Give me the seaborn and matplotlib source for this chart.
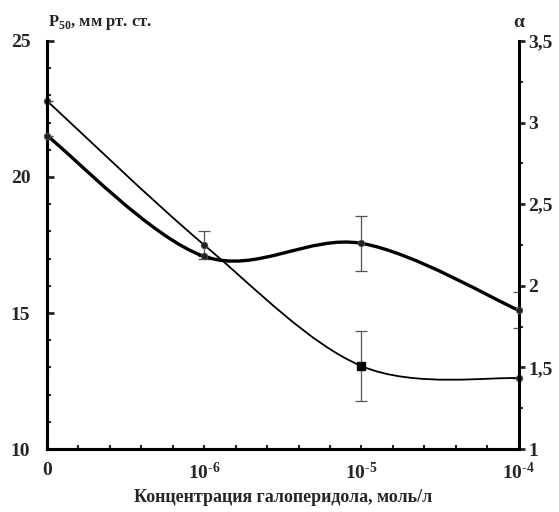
import numpy as np
import pandas as pd
import seaborn as sns
import matplotlib.pyplot as plt
from matplotlib.path import Path
from matplotlib.patches import PathPatch
from matplotlib.ticker import MultipleLocator

# data
conc_labels = ['0', r'$\mathbf{10^{\text{-}6}}$', r'$\mathbf{10^{\text{-}5}}$', r'$\mathbf{10^{\text{-}4}}$']
conc_pos = [0, 1, 2, 3]
p50 = [22.8, 17.5, 13.05, 12.6]
p50_err = [0.0, 0.5, 1.3, 0.0]
alpha = [2.92, 2.18, 2.26, 1.85]
alpha_err = [0.0, 0.0, 0.17, 0.11]

sns.set_style('ticks')
plt.rcParams['font.family'] = ['Liberation Serif', 'DejaVu Serif']
plt.rcParams['font.weight'] = 'bold'
plt.rcParams['mathtext.fontset'] = 'custom'
plt.rcParams['mathtext.rm'] = 'Liberation Serif:bold'
plt.rcParams['mathtext.bf'] = 'Liberation Serif:bold'


def smooth_path(xs, ys):
    # excel-like smoothed line (catmull-rom as bezier segments)
    pts = np.column_stack([xs, ys]).astype(float)
    n = len(pts)
    verts = [pts[0]]
    codes = [Path.MOVETO]
    for i in range(n - 1):
        p0 = pts[i - 1] if i > 0 else pts[i]
        p1 = pts[i]
        p2 = pts[i + 1]
        p3 = pts[i + 2] if i + 2 < n else pts[i + 1]
        verts += [p1 + (p2 - p0) / 6, p2 - (p3 - p1) / 6, p2]
        codes += [Path.CURVE4] * 3
    return Path(verts, codes)


df = pd.DataFrame({'x': conc_pos, 'p50': p50, 'alpha': alpha})

fig = plt.figure(figsize=(5.59, 5.12), dpi=100)
ax = fig.add_axes([0.084, 0.123, 0.844, 0.797])
ax2 = ax.twinx()

# P50 curve (thin)
ax.add_patch(PathPatch(smooth_path(df.x, df.p50), fill=False, lw=1.3, ec='black', zorder=3))
ax.errorbar(df.x, df.p50, yerr=p50_err, fmt='none', ecolor='#555555', elinewidth=0.9,
            capsize=4, capthick=0.9, zorder=2)
sns.scatterplot(data=df, x='x', y='p50', ax=ax, color='#222222', s=22, clip_on=False,
                marker='o', edgecolor='#555555', linewidth=0.6, zorder=4, legend=False)
ax.plot(2, p50[2], marker='s', ms=5.5, color='black', zorder=5)

# alpha curve (thick)
ax2.add_patch(PathPatch(smooth_path(df.x, df.alpha), fill=False, lw=2.4, ec='black', zorder=3))
ax2.errorbar(df.x, df.alpha, yerr=alpha_err, fmt='none', ecolor='#555555', elinewidth=0.9,
             capsize=4, capthick=0.9, zorder=2)
sns.scatterplot(data=df, x='x', y='alpha', ax=ax2, color='#222222', s=22, clip_on=False,
                marker='o', edgecolor='#555555', linewidth=0.6, zorder=4, legend=False)

ax.set_xlim(0, 3)
ax.set_ylim(10, 25)
ax2.set_ylim(1, 3.5)

ax.set_xticks(conc_pos)
ax.set_xticklabels(conc_labels)
ax.xaxis.set_minor_locator(MultipleLocator(0.2))
ax.yaxis.set_major_locator(MultipleLocator(5))
ax.yaxis.set_minor_locator(MultipleLocator(1))
ax2.yaxis.set_major_locator(MultipleLocator(0.5))
ax2.yaxis.set_minor_locator(MultipleLocator(0.25))
ax2.set_yticks([1, 1.5, 2, 2.5, 3, 3.5])
ax2.set_yticklabels(['1', '1,5', '2', '2,5', '3', '3,5'])

for a in (ax, ax2):
    a.spines['top'].set_visible(False)
    for s in ('left', 'right', 'bottom'):
        a.spines[s].set_linewidth(2.2)
        a.spines[s].set_color('black')
    a.set_xlabel('')
    a.set_ylabel('')
ax.spines['right'].set_visible(False)

ax.tick_params(axis='x', which='both', direction='in', length=3, width=1.5, pad=9,
               labelsize=14)
ax.tick_params(axis='y', which='major', direction='in', length=5, width=2, pad=12,
               labelsize=14)
ax.tick_params(axis='y', which='minor', direction='in', length=3, width=1.5)
ax2.tick_params(axis='y', which='major', direction='out', length=4, width=2, pad=3,
                labelsize=14)
ax2.tick_params(axis='y', which='minor', direction='out', length=3, width=1.5)
for lab in ax.get_xticklabels() + ax.get_yticklabels() + ax2.get_yticklabels():
    lab.set_fontweight('bold')

fig.text(0.086, 0.957, r'Р$_{\mathbf{50}}$, мм рт. ст.', fontsize=12, fontweight='bold',
         ha='left', va='center')
fig.text(0.928, 0.957, 'α', fontsize=14, fontweight='bold', ha='center', va='center')
fig.text(0.506, 0.028, 'Концентрация галоперидола, моль/л', fontsize=13,
         fontweight='bold', ha='center', va='center')

fig.savefig('out.png', dpi=100)
